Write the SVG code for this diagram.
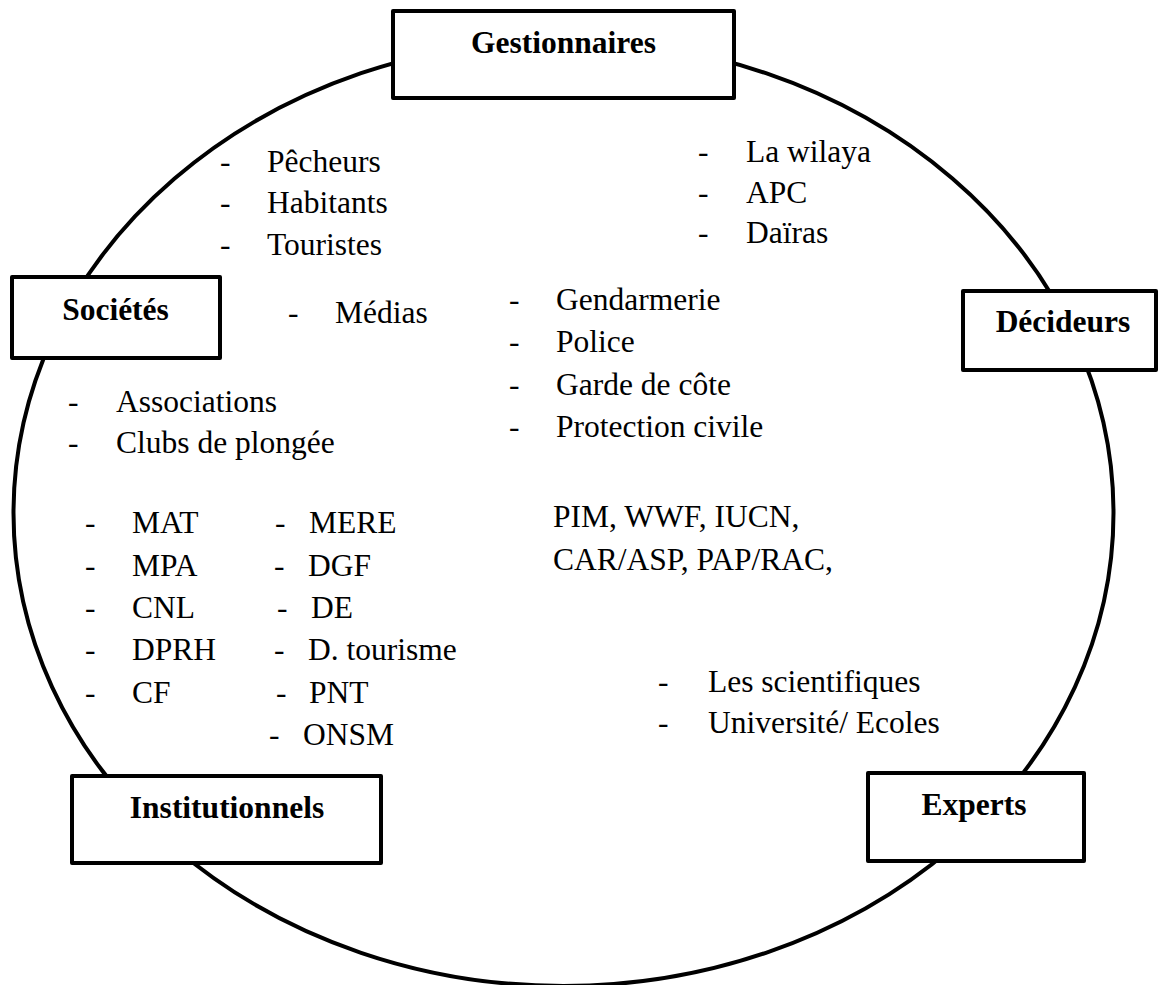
<svg xmlns="http://www.w3.org/2000/svg" width="1159" height="985" viewBox="0 0 1159 985">
<style>
text{font-family:"Liberation Serif","Times New Roman",serif;font-size:31.5px;fill:#000}
.b{font-weight:bold;text-anchor:middle}
.box{fill:#fff;stroke:#000;stroke-width:4;stroke-linejoin:round}
.ring{fill:none;stroke:#000;stroke-width:4}
</style>
<rect width="1159" height="985" fill="#fff"/>
<g id="connectors">
<ellipse class="ring" cx="563.5" cy="513" rx="550" ry="473"/>
</g>
<g id="gestionnaires"><rect class="box" x="393" y="11" width="341" height="87"/><text class="b" x="563.5" y="53">Gestionnaires</text></g>
<g id="societes"><rect class="box" x="12" y="277" width="208" height="81"/><text class="b" x="115.5" y="320">Sociétés</text></g>
<g id="decideurs"><rect class="box" x="963" y="291" width="193" height="79"/><text class="b" x="1063" y="332">Décideurs</text></g>
<g id="institutionnels"><rect class="box" x="72" y="776" width="309" height="87"/><text class="b" x="227" y="818">Institutionnels</text></g>
<g id="experts"><rect class="box" x="868" y="773" width="216" height="88"/><text class="b" x="974" y="815">Experts</text></g>
<g id="texts">
<text x="220" y="172">-</text><text x="267" y="172">Pêcheurs</text>
<text x="220" y="213">-</text><text x="267" y="213">Habitants</text>
<text x="220" y="255">-</text><text x="267" y="255">Touristes</text>
<text x="288" y="323">-</text><text x="335" y="323">Médias</text>
<text x="698" y="162">-</text><text x="746" y="162">La wilaya</text>
<text x="698" y="203">-</text><text x="746" y="203">APC</text>
<text x="698" y="243">-</text><text x="746" y="243">Daïras</text>
<text x="509" y="310">-</text><text x="556" y="310">Gendarmerie</text>
<text x="509" y="352">-</text><text x="556" y="352">Police</text>
<text x="509" y="395">-</text><text x="556" y="395">Garde de côte</text>
<text x="509" y="437">-</text><text x="556" y="437">Protection civile</text>
<text x="68" y="412">-</text><text x="116" y="412">Associations</text>
<text x="68" y="453">-</text><text x="116" y="453">Clubs de plongée</text>
<text x="85" y="533">-</text><text x="132" y="533">MAT</text>
<text x="85" y="576">-</text><text x="132" y="576">MPA</text>
<text x="85" y="618">-</text><text x="132" y="618">CNL</text>
<text x="85" y="660">-</text><text x="132" y="660">DPRH</text>
<text x="85" y="703">-</text><text x="132" y="703">CF</text>
<text x="275" y="533">-</text><text x="309" y="533">MERE</text>
<text x="274" y="576">-</text><text x="308" y="576">DGF</text>
<text x="277" y="618">-</text><text x="311" y="618">DE</text>
<text x="274" y="660">-</text><text x="308" y="660">D. tourisme</text>
<text x="276" y="703">-</text><text x="309" y="703">PNT</text>
<text x="269" y="745">-</text><text x="303" y="745">ONSM</text>
<text x="553" y="527">PIM, WWF, IUCN,</text>
<text x="553" y="570">CAR/ASP, PAP/RAC,</text>
<text x="658" y="692">-</text><text x="708" y="692">Les scientifiques</text>
<text x="658" y="733">-</text><text x="708" y="733">Université/ Ecoles</text>
</g>
</svg>
